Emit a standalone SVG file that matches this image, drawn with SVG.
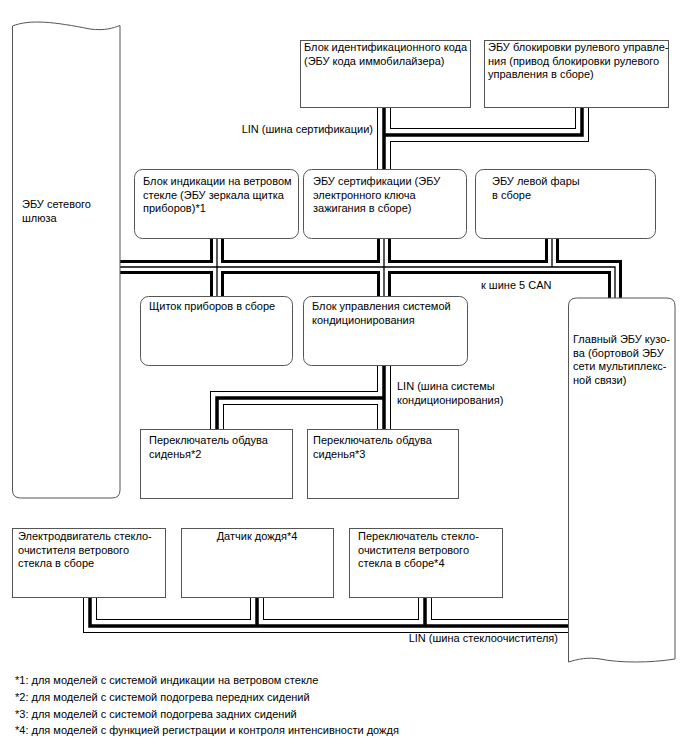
<svg xmlns="http://www.w3.org/2000/svg" width="688" height="755" viewBox="0 0 688 755">
<style>
text{font-family:"Liberation Sans",Arial,sans-serif;font-size:11px;fill:#000}
.fn{font-size:11px}
.box{fill:#fff;stroke:#555;stroke-width:1}
.b1{fill:none;stroke:#000;stroke-width:14;stroke-linejoin:miter;stroke-linecap:butt}
.b2{fill:none;stroke:#fff;stroke-width:12;stroke-linejoin:miter;stroke-linecap:butt}
.b3{fill:none;stroke:#000;stroke-width:3.5;stroke-linejoin:miter;stroke-linecap:butt}
.c2{fill:none;stroke:#fff;stroke-width:8;stroke-linejoin:miter;stroke-linecap:butt}
.c3{fill:none;stroke:#000;stroke-width:1.3;stroke-linejoin:miter;stroke-linecap:butt}
</style>
<defs>
<path id="can" d="M120,267 H615 V298 M217,238 V298 M384,238 V298 M552,238 V267"/>
<path id="lin" d="M384,107 V169 M582,107 V135 H384 M384,365 V429 M384,398 H217 V429 M90,597 V626 H569 M257,597 V626 M425,597 V626"/>
</defs>
<rect width="688" height="755" fill="#fff"/>
<g id="connectors">
<use href="#can" class="b1"/>
<use href="#can" class="c2"/>
<use href="#can" class="c3"/>
<use href="#lin" class="b1"/>
<use href="#lin" class="b2"/>
<use href="#lin" class="b3"/>
</g>
<g id="gateway">
<path class="box" d="M12.5,26 C30,19 55,22 90,29 C105,31 113,28 120,25.5 V490 Q120,498 112,498 H20.5 Q12.5,498 12.5,490 Z"/>
<text x="22" y="208">ЭБУ сетевого</text>
<text x="22" y="221.5">шлюза</text>
</g>
<g id="idcode">
<rect class="box" x="300.5" y="40.5" width="170" height="67"/>
<text x="304" y="51">Блок идентификационного кода</text>
<text x="304" y="64.5">(ЭБУ кода иммобилайзера)</text>
</g>
<g id="steerlock">
<rect class="box" x="484.5" y="40.5" width="184" height="67"/>
<text x="488" y="51">ЭБУ блокировки рулевого управле-</text>
<text x="488" y="64.5">ния (привод блокировки рулевого</text>
<text x="488" y="78">управления в сборе)</text>
</g>
<g id="hud">
<rect class="box" x="134.5" y="169.5" width="164" height="69" rx="8"/>
<text x="143" y="185">Блок индикации на ветровом</text>
<text x="143" y="198.5">стекле (ЭБУ зеркала щитка</text>
<text x="143" y="212">приборов)*1</text>
</g>
<g id="certecu">
<rect class="box" x="303.5" y="169.5" width="163" height="69" rx="8"/>
<text x="313" y="185">ЭБУ сертификации (ЭБУ</text>
<text x="313" y="198.5">электронного ключа</text>
<text x="313" y="212">зажигания в сборе)</text>
</g>
<g id="headlight">
<rect class="box" x="475.5" y="169.5" width="180" height="69" rx="8"/>
<text x="492" y="185">ЭБУ левой фары</text>
<text x="492" y="198.5">в сборе</text>
</g>
<g id="meter">
<rect class="box" x="140.5" y="296.5" width="152" height="69" rx="8"/>
<text x="149" y="310">Щиток приборов в сборе</text>
</g>
<g id="aircon">
<rect class="box" x="303.5" y="296.5" width="164" height="69" rx="8"/>
<text x="312" y="310">Блок управления системой</text>
<text x="312" y="323.5">кондиционирования</text>
</g>
<g id="mainbody">
<path class="box" d="M568.5,306 Q568.5,298 576.5,298 H667 Q675,298 675,306 V659 C650,663 620,663 600,659 C588,657 578,659 568.5,662 Z"/>
<text x="573" y="343">Главный ЭБУ кузо-</text>
<text x="573" y="356.5">ва (бортовой ЭБУ</text>
<text x="573" y="370">сети мультиплекс-</text>
<text x="573" y="383.5">ной связи)</text>
</g>
<g id="seat2">
<rect class="box" x="140.5" y="429.5" width="152" height="69"/>
<text x="149" y="444">Переключатель обдува</text>
<text x="149" y="457.5">сиденья*2</text>
</g>
<g id="seat3">
<rect class="box" x="307.5" y="429.5" width="151" height="69"/>
<text x="313" y="444">Переключатель обдува</text>
<text x="313" y="457.5">сиденья*3</text>
</g>
<g id="wipermotor">
<rect class="box" x="12.5" y="528.5" width="153" height="69"/>
<text x="18" y="540">Электродвигатель стекло-</text>
<text x="18" y="553.5">очистителя ветрового</text>
<text x="18" y="567">стекла в сборе</text>
</g>
<g id="rainsensor">
<rect class="box" x="181.5" y="528.5" width="152" height="69"/>
<text x="257" y="540" text-anchor="middle">Датчик дождя*4</text>
</g>
<g id="wiperswitch">
<rect class="box" x="349.5" y="528.5" width="153" height="69"/>
<text x="358" y="540">Переключатель стекло-</text>
<text x="358" y="553.5">очистителя ветрового</text>
<text x="358" y="567">стекла в сборе*4</text>
</g>
<g id="labels">
<text x="373" y="133" text-anchor="end">LIN (шина сертификации)</text>
<text x="481" y="289">к шине 5 CAN</text>
<text x="397" y="390">LIN (шина системы</text>
<text x="397" y="403.5">кондиционирования)</text>
<text x="558" y="642" text-anchor="end">LIN (шина стеклоочистителя)</text>
</g>
<g id="footnotes">
<text class="fn" x="15" y="684">*1: для моделей с системой индикации на ветровом стекле</text>
<text class="fn" x="15" y="701">*2: для моделей с системой подогрева передних сидений</text>
<text class="fn" x="15" y="717.5">*3: для моделей с системой подогрева задних сидений</text>
<text class="fn" x="15" y="734">*4: для моделей с функцией регистрации и контроля интенсивности дождя</text>
</g>
</svg>
